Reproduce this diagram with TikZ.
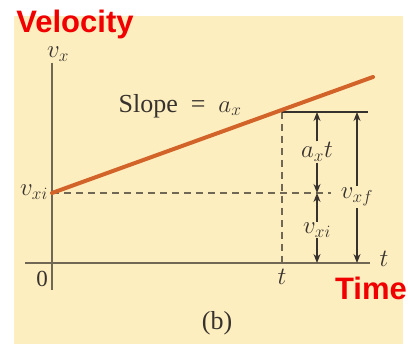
\documentclass[tikz,border=0pt]{standalone}
\usepackage{fontspec}
\newfontfamily\redsans{Liberation Sans}
\newfontfamily\txtserif{Liberation Serif}
\usetikzlibrary{arrows.meta}
\definecolor{cream}{RGB}{253,238,192}
\definecolor{axiscol}{RGB}{112,104,84}
\definecolor{linecol}{RGB}{210,100,42}
\definecolor{inkcol}{RGB}{55,50,45}
\definecolor{redlab}{RGB}{240,0,0}
\tikzset{
  lab/.style={inner sep=1pt, text=inkcol, font=\fontsize{25}{29}\selectfont},
  txt/.style={inner sep=1pt, text=inkcol, font=\txtserif\fontsize{26}{30}\selectfont},
  redtitle/.style={inner sep=0pt, text=redlab, font=\redsans\bfseries\fontsize{31}{34}\selectfont},
  axisline/.style={draw=axiscol, line width=1.5pt},
  dashline/.style={draw=axiscol, line width=1.3pt, dash pattern=on 7pt off 5pt},
  solidline/.style={draw=inkcol, line width=1.2pt},
  arr/.style={draw=inkcol, line width=1.2pt, -{Stealth[length=9pt,width=7pt]}},
  graphline/.style={draw=linecol, line width=4pt}
}
\begin{document}
\begin{tikzpicture}[x=1pt,y=-1pt]
\useasboundingbox (0,0) rectangle (410,344);
\fill[cream] (14,16) rectangle (403,344);
% coordinates
\coordinate (ytop) at (52,63);
\coordinate (ybot) at (52,290);
\coordinate (xleft) at (25,263);
\coordinate (xright) at (370,263);
\coordinate (vi) at (52,193);
\coordinate (gend) at (373,77);
\coordinate (pt) at (282,112);
\coordinate (tbase) at (282,263);
\coordinate (hend) at (368,112);
\coordinate (dend) at (331,193);
\coordinate (a1top) at (317,112);
\coordinate (a1bot) at (317,193);
\coordinate (a2bot) at (317,263);
\coordinate (a3top) at (357,112);
\coordinate (a3bot) at (357,263);
% axes
\draw[axisline] (ytop) -- (ybot);
\draw[axisline] (xleft) -- (xright);
% dashed guides
\draw[dashline] (vi) -- (dend);
\draw[dashline] (pt) -- (tbase);
% horizontal solid
\draw[solidline] (pt) -- (hend);
% graph
\draw[graphline, line cap=round] (vi) -- (gend);
% labels
\node[redtitle] (vel) at (75,24) {Velocity};
\node[redtitle] (time) at (371,288) {Time};
\node[lab, inner sep=0pt] (vx) at (58,54) {$v_x$};
\node[lab, anchor=east] (vxi) at (49,192) {$v_{xi}$};
\node[txt, font=\txtserif\fontsize{23}{27}\selectfont] (zero) at (42,279) {0};
\node[lab] (tlow) at (282,277) {$t$};
\node[lab] (tend) at (384,259) {$t$};
\node[txt] (slope) at (180,106) {Slope\ \ =\ \ \fontsize{25}{29}\selectfont$a_x$};
\node[lab] (axt) at (317,152) {$a_x t$};
\node[lab] (vxi2) at (317,230) {$v_{xi}$};
\node[lab, fill=cream, inner sep=2pt] (vxf) at (357,197) {$v_{xf}$};
\node[txt] (bb) at (217,323) {(b)};
% arrows
\draw[arr] (axt.north) -- (a1top);
\draw[arr] (axt.south) -- (a1bot);
\draw[arr] (vxi2.north) -- (a1bot);
\draw[arr] (vxi2.south) -- (a2bot);
\draw[arr] (vxf.north) -- (a3top);
\draw[arr] (vxf.south) -- (a3bot);
\end{tikzpicture}
\end{document}
